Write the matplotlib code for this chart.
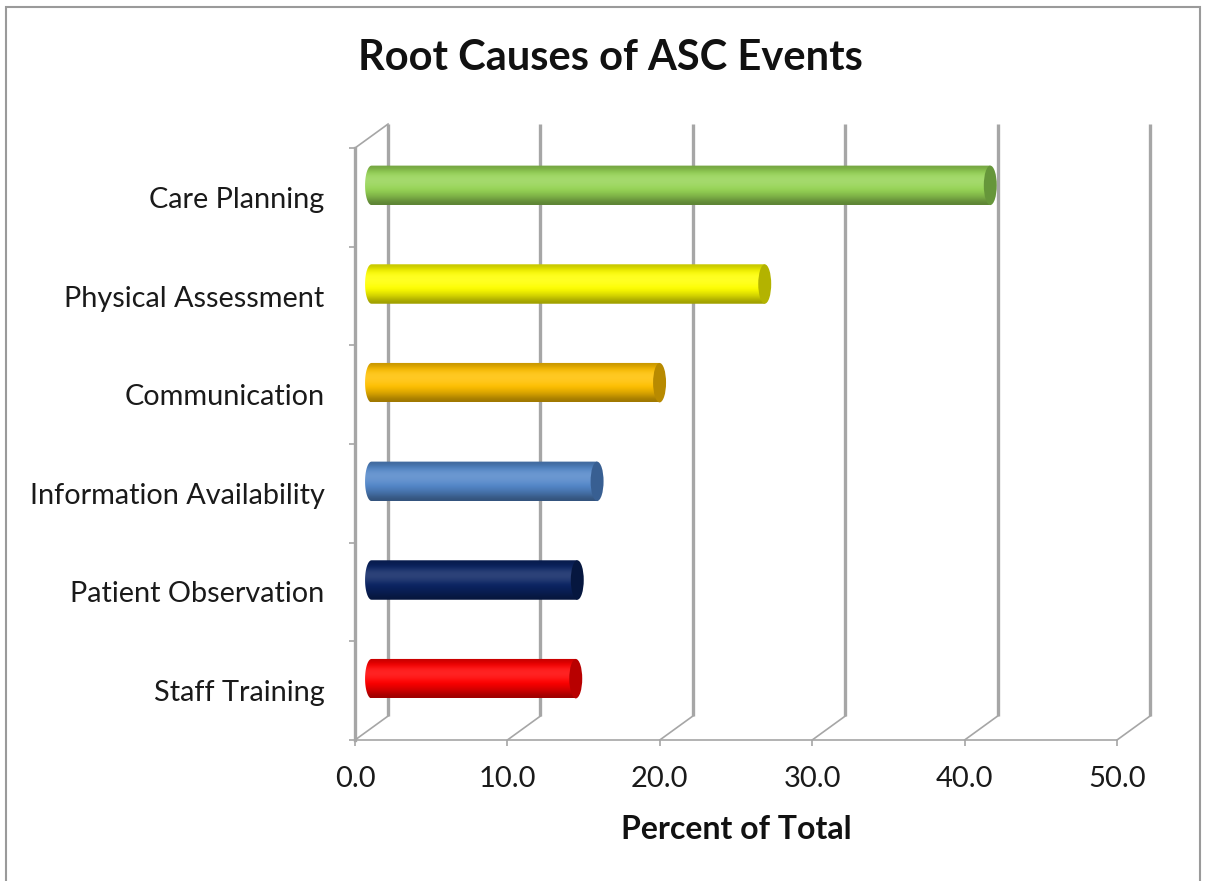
import matplotlib
matplotlib.use("Agg")
import matplotlib.pyplot as plt
import numpy as np
from matplotlib.patches import Ellipse, Rectangle
from matplotlib.path import Path
from matplotlib.colors import to_rgb

plt.rcParams['font.family'] = ['Lato', 'DejaVu Sans']

# data, bottom to top
causes = ["Staff Training", "Patient Observation", "Information Availability",
          "Communication", "Physical Assessment", "Care Planning"]
percent = [13.4, 13.5, 14.8, 18.9, 25.8, 40.6]
bar_colors = ["#ff0000", "#0b2463", "#5387c9", "#ffc000", "#ffff00", "#96d455"]
cap_colors = ["#b80000", "#06173f", "#385f92", "#b88a00", "#b3b300", "#66963a"]
xticks = [0, 10, 20, 30, 40, 50]

W, H = 1207, 881
fig = plt.figure(figsize=(W / 100, H / 100), dpi=100)
ax = fig.add_axes([355 / W, 141 / H, 762 / W, 592 / H])
ax.set_xlim(0, 50)
ax.set_ylim(0, 6)

# depth of the fake 3D box, in data units
dx, dy = 2.17, 0.243
grid_c = "#a6a6a6"

# back wall gridlines
for x in xticks:
    ax.plot([x + dx, x + dx], [dy, 6 + dy], color=grid_c, lw=2.4,
            clip_on=False, zorder=1, solid_capstyle="butt")
    # floor lines
    ax.plot([x, x + dx], [0, dy], color=grid_c, lw=1.2, clip_on=False, zorder=1)
# left wall top edge
ax.plot([0, dx], [6, 6 + dy], color=grid_c, lw=1.2, clip_on=False, zorder=1)


def shade(c, f):
    c = np.array(to_rgb(c))
    if f >= 1:
        return c + (1 - c) * (f - 1)
    return c * f


profile = np.array([0.78, 0.95, 1.12, 1.15, 1.1, 1.0, 0.9, 0.78, 0.62])
bh = 0.40
capw = 0.85

for i, (v, c, cc) in enumerate(zip(percent, bar_colors, cap_colors)):
    yc = i + 0.5 + dy / 2
    x0 = dx / 2
    x1 = v + dx / 2
    yt, yb = yc + bh / 2, yc - bh / 2
    # body gradient
    grad = np.array([shade(c, f) for f in profile])[:, None, :]
    im = ax.imshow(grad, extent=(x0 - capw / 2, x1, yb, yt), aspect="auto",
                   interpolation="bicubic", zorder=3, origin="upper")
    t = np.linspace(np.pi / 2, 3 * np.pi / 2, 30)
    pts = [(x0 + capw / 2 * np.cos(a), yc + bh / 2 * np.sin(a)) for a in t]
    pts += [(x1, yb), (x1, yt), pts[0]]
    codes = [Path.MOVETO] + [Path.LINETO] * (len(pts) - 2) + [Path.CLOSEPOLY]
    im.set_clip_path(Path(pts, codes), transform=ax.transData)
    ax.add_patch(Ellipse((x1, yc), capw, bh, facecolor=cc, edgecolor="none", zorder=4))

ax.set_xlim(0, 50)
ax.set_ylim(0, 6)

for s in ["top", "right"]:
    ax.spines[s].set_visible(False)
ax.spines["left"].set_color(grid_c)
ax.spines["left"].set_linewidth(2.4)
ax.spines["bottom"].set_color(grid_c)
ax.spines["bottom"].set_linewidth(1.2)

ax.set_yticks(np.arange(6) + 0.5)
ax.set_yticklabels(causes)
ax.set_yticks(np.arange(7), minor=True)
ax.tick_params(axis="y", which="major", length=0, pad=22, labelsize=20.8, labelcolor="#1a1a1a")
ax.tick_params(axis="y", which="minor", length=4, width=1.2, color=grid_c)
ax.set_xticks(xticks)
ax.set_xticklabels([f"{x:.1f}" for x in xticks])
ax.tick_params(axis="x", length=4.5, width=1.2, color=grid_c, pad=14,
               labelsize=21, labelcolor="#1a1a1a")
ax.set_xlabel("Percent of Total", fontsize=23, fontweight="bold", labelpad=17,
              color="#111111")

fig.text(610 / W, 1 - 58 / H, "Root Causes of ASC Events", ha="center", va="center",
         fontsize=30, fontweight="bold", color="#111111")

# chart area border
fig.add_artist(Rectangle((6 / W, -0.01), (1200 - 6) / W, 1 - 7 / H + 0.01,
                         transform=fig.transFigure, fill=False,
                         edgecolor="#9a9a9a", lw=1.5))

fig.savefig("out.png", dpi=100)
